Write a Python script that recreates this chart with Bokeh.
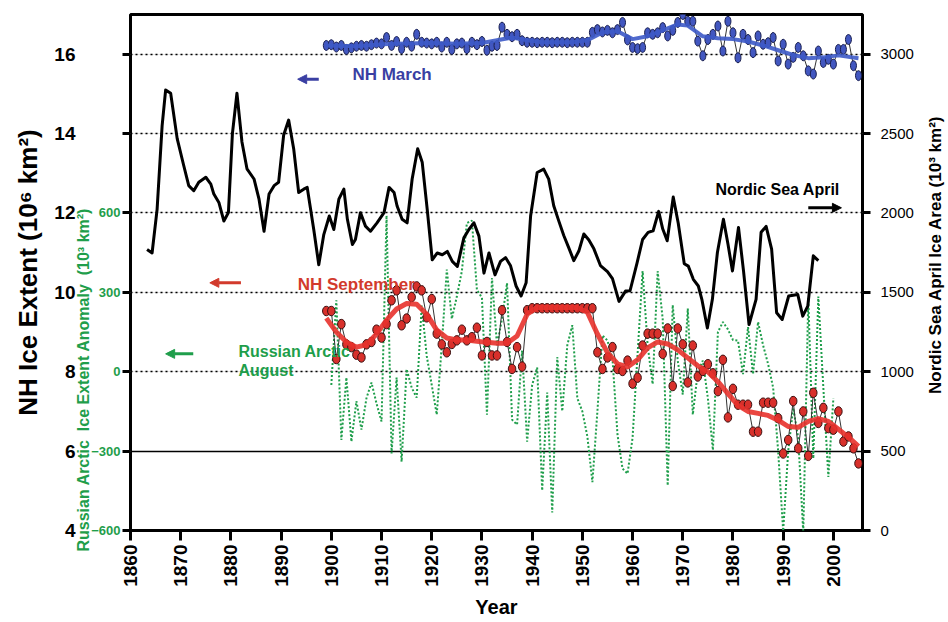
import math
from bokeh.plotting import figure
from bokeh.layouts import row
from bokeh.models import Range1d, LinearAxis, FixedTicker, Grid, Label, Arrow, NormalHead, Title
from bokeh.embed import file_html
from bokeh.resources import INLINE

FONT = "Liberation Sans"
GREEN = "#1f9e4b"
RED = "#d8302b"

# ---------------- data ----------------
x_ticks = [1860, 1870, 1880, 1890, 1900, 1910, 1920, 1930, 1940, 1950, 1960, 1970, 1980, 1990, 2000]
nh_ticks = [4, 6, 8, 10, 12, 14, 16]
green_ticks = [-600, -300, 0, 300, 600, 900, 1200]
nordic_ticks = [0, 500, 1000, 1500, 2000, 2500, 3000]

years_nh = list(range(1899, 2006))

nh_september = [
    9.53, 9.53, 8.32, 9.2, 8.69, 8.62, 8.43, 8.36, 8.69, 8.75,
    9.06, 8.86, 9.2, 9.8, 10.05, 9.17, 9.34, 9.88, 10.15, 10.05,
    9.37, 9.83, 8.96, 8.69, 8.49, 8.7, 8.79, 9.06, 8.79, 8.87,
    9.11, 8.41, 8.75, 8.41, 8.41, 9.55, 8.75, 8.07, 8.62, 8.13,
    9.55,
    9.6, 9.6, 9.6, 9.6, 9.6, 9.6, 9.6, 9.6, 9.6, 9.6, 9.6, 9.6, 9.6,
    8.49, 8.07, 8.36, 8.62, 8.07, 8.02, 8.28, 7.7, 7.85, 8.66,
    8.96, 8.96, 8.96, 8.45, 9.09, 7.64, 9.09, 8.69, 7.73, 8.66,
    7.88, 8.02, 8.19, 7.96, 7.51, 8.3, 6.85, 7.57, 7.17, 7.17,
    7.17, 6.49, 6.49, 7.22, 7.22, 7.22, 6.83, 5.94, 6.28, 7.26,
    6.07, 7.0, 5.88, 7.47, 6.71, 7.09, 6.58, 6.54, 7.0, 6.24,
    6.37, 6.07, 5.69,
]

sep_smooth_years = [1899, 1901, 1903, 1905, 1907, 1909, 1911, 1913, 1915, 1917,
                    1919, 1921, 1923, 1925, 1927, 1929, 1931, 1933, 1935, 1937,
                    1939, 1941, 1943, 1945, 1947, 1949, 1951, 1953, 1955, 1957,
                    1959, 1961, 1963, 1965, 1967, 1969, 1971, 1973, 1975, 1977,
                    1979, 1981, 1983, 1985, 1987, 1989, 1991, 1993, 1995, 1997,
                    1999, 2001, 2003, 2005]
sep_smooth = [9.35, 9.0, 8.75, 8.62, 8.68, 8.95, 9.3, 9.58, 9.72, 9.7,
              9.45, 9.05, 8.85, 8.8, 8.8, 8.77, 8.74, 8.72, 8.72, 8.9,
              9.45, 9.62, 9.62, 9.62, 9.62, 9.62, 9.5, 8.95, 8.48, 8.2,
              8.12, 8.3, 8.6, 8.75, 8.7, 8.55, 8.35, 8.15, 8.0, 7.75,
              7.45, 7.15, 7.0, 6.95, 6.9, 6.78, 6.62, 6.6, 6.75, 6.82,
              6.75, 6.55, 6.35, 6.12]

nh_march = [
    16.22, 16.24, 16.18, 16.22, 16.12, 16.16, 16.2, 16.22, 16.2, 16.24,
    16.28, 16.26, 16.42, 16.22, 16.32, 16.14, 16.3, 16.2, 16.5, 16.3,
    16.28, 16.26, 16.3, 16.18, 16.3, 16.12, 16.26, 16.28, 16.14, 16.3,
    16.24, 16.32, 16.1, 16.2, 16.22, 16.68, 16.5, 16.44, 16.5, 16.34,
    16.3,
    16.3, 16.29, 16.3, 16.3, 16.29, 16.3, 16.3, 16.29, 16.3, 16.3, 16.3, 16.3,
    16.55, 16.62, 16.56, 16.6, 16.54, 16.62, 16.8, 16.36, 16.17, 16.14,
    16.17, 16.54, 16.5, 16.54, 16.67, 16.46, 16.6, 16.8, 17.0, 16.83,
    16.83, 16.33, 15.96, 16.37, 16.5, 16.71, 16.08, 16.83, 16.54, 15.91,
    16.5, 16.37, 16.04, 16.46, 16.25, 16.29, 16.42, 15.83, 16.25, 15.75,
    15.92, 16.17, 15.96, 15.58, 15.5, 16.08, 15.79, 15.87, 15.75, 16.12,
    16.12, 16.37, 15.71, 15.46,
]

mar_smooth_years = [1899, 1905, 1910, 1915, 1920, 1925, 1930, 1933, 1936, 1939,
                    1942, 1948, 1951, 1954, 1957, 1960, 1963, 1966, 1969, 1971,
                    1974, 1977, 1980, 1983, 1986, 1989, 1992, 1995, 1998, 2001, 2005]
mar_smooth = [16.22, 16.2, 16.25, 16.27, 16.28, 16.26, 16.28, 16.35, 16.42, 16.35,
              16.3, 16.3, 16.35, 16.55, 16.58, 16.38, 16.45, 16.6, 16.75, 16.72,
              16.45, 16.4, 16.38, 16.32, 16.22, 16.1, 15.98, 15.9, 15.92, 15.97, 15.9]

nordic_years = [1863.3, 1864.3, 1865.3, 1866.3, 1867.0, 1868.0, 1869.3, 1870.6, 1871.6, 1872.6,
                1873.6, 1875.0, 1876.0, 1876.6, 1877.6, 1878.6, 1879.5, 1880.3, 1881.2, 1882.2,
                1883.2, 1884.6, 1885.6, 1886.6, 1887.6, 1888.6, 1889.5, 1890.5, 1891.5, 1892.5,
                1893.5, 1894.5, 1895.2, 1896.5, 1897.5, 1898.5, 1899.6, 1900.5, 1901.5, 1902.5,
                1903.2, 1904.2, 1904.8, 1905.8, 1906.8, 1907.8, 1909.1, 1910.5, 1911.5, 1912.5,
                1913.1, 1914.1, 1915.1, 1916.1, 1917.2, 1918.1, 1919.1, 1920.1, 1921.1, 1922.1,
                1923.1, 1924.1, 1925.1, 1926.4, 1927.4, 1928.4, 1929.4, 1930.4, 1931.4, 1932.6,
                1933.7, 1934.7, 1935.7, 1936.8, 1937.8, 1938.8, 1939.7, 1941.0, 1942.3, 1943.3,
                1944.3, 1945.3, 1946.3, 1947.3, 1948.3, 1949.3, 1950.3, 1951.3, 1952.3, 1953.6,
                1955.0, 1956.0, 1957.3, 1958.6, 1959.5, 1960.9, 1962.0, 1963.1, 1964.1, 1965.2,
                1966.0, 1966.9, 1968.1, 1969.1, 1970.3, 1971.1, 1972.1, 1973.1, 1973.8, 1974.9,
                1975.9, 1976.9, 1978.1, 1979.0, 1979.9, 1981.1, 1982.1, 1983.2, 1984.6, 1985.6,
                1986.6, 1987.7, 1988.7, 1989.8, 1991.1, 1992.9, 1993.9, 1994.9, 1996.0, 1997.0]
nordic_april = [1770, 1748, 2023, 2550, 2775, 2754, 2468, 2299, 2172, 2140,
                2193, 2225, 2182, 2119, 2066, 1949, 2002, 2500, 2754, 2447,
                2278, 2214, 2087, 1885, 2119, 2172, 2193, 2489, 2585, 2405,
                2129, 2150, 2161, 1896, 1674, 1864, 1981, 1896, 2087, 2150,
                1960, 1801, 1833, 2002, 1917, 1885, 1938, 2002, 2161, 2129,
                2044, 1960, 1938, 2214, 2405, 2320, 2023, 1705, 1748, 1737,
                1758, 1695, 1663, 1843, 1896, 1938, 1854, 1621, 1748, 1610,
                1695, 1719, 1667, 1540, 1477, 1561, 1983, 2255, 2276, 2213,
                2046, 1950, 1858, 1780, 1700, 1760, 1868, 1830, 1774, 1669,
                1630, 1586, 1443, 1508, 1510, 1686, 1833, 1878, 1888, 2010,
                1900, 1825, 2100, 1935, 1680, 1665, 1582, 1540, 1456, 1276,
                1456, 1751, 1960, 1804, 1635, 1909, 1635, 1297, 1456, 1878,
                1915, 1772, 1371, 1329, 1477, 1487, 1350, 1413, 1730, 1700]

russian_years = list(range(1900, 2001))
russian_august = [
    -50, 270, -258, -22, -264, -111, -219, -100, -41, -120,
    -188, 590, -309, -22, -340, 10, -60, -98, 250, 60,
    -50, -162, 100, 386, 200, 284, 380, 562, 571, 309,
    280, -162, 354, 100, 200, 335, -181, -200, 80, -264,
    -50, 16, -449, -79, -532, 55, -149, 100, 176, -100,
    -150, -245, -417, -149, 137, 118, 50, -238, -366, -385,
    -250, 67, 380, 100, -47, 380, 200, -430, 252, 42,
    -86, 239, -162, 0, 42, -100, -296, 150, 188, 160,
    120, 118, -9, 169, -9, 188, 100, 29, -60, -300,
    -602, -300, -137, -250, -608, 278, -328, 284, -60, -398,
    -100,
]

# ---------------- figure ----------------
H = 621
p = figure(width=918, height=H,
           x_range=Range1d(1860, 2005.8), y_range=Range1d(4, 17),
           y_axis_location=None,
           output_backend="svg", toolbar_location=None,
           min_border_left=130, min_border_right=56, min_border_top=14, min_border_bottom=91)
p.extra_y_ranges = {"green": Range1d(-600, 1350), "nordic": Range1d(0, 3250)}
p.outline_line_color = "black"
p.outline_line_width = 3
p.background_fill_color = "white"
p.border_fill_color = "white"
p.xgrid.grid_line_color = None

# grids
p.add_layout(Grid(dimension=1, ticker=FixedTicker(ticks=[8, 10, 12, 14, 16]),
                  grid_line_color="black", grid_line_dash="2 3", grid_line_width=1.5))
p.add_layout(Grid(dimension=1, ticker=FixedTicker(ticks=[6]),
                  grid_line_color="black", grid_line_width=1.5))

# x axis
xa = p.xaxis[0]
xa.ticker = FixedTicker(ticks=x_ticks)
xa.major_label_orientation = math.pi / 2
xa.major_label_text_font = FONT
xa.major_label_text_font_style = "bold"
xa.major_label_text_font_size = "19px"
xa.major_label_text_color = "black"
xa.major_label_standoff = 4
xa.major_tick_out = 10
xa.major_tick_in = 0
xa.major_tick_line_width = 3
xa.minor_tick_line_color = None
xa.axis_line_color = None
xa.axis_label = None

p.add_layout(Title(text="Year", align="center", offset=-16, standoff=8,
                   text_font=FONT, text_font_style="bold", text_font_size="20px",
                   text_color="black"), "below")

# left: green tick axis (closest to frame)
ga = LinearAxis(y_range_name="green", ticker=FixedTicker(ticks=green_ticks),
                major_label_overrides={900: "", 1200: ""})
ga.axis_line_color = None
ga.major_tick_out = 8
ga.major_tick_in = 0
ga.major_tick_line_width = 3
ga.minor_tick_line_color = None
ga.major_label_standoff = 2
ga.major_label_text_font = FONT
ga.major_label_text_font_style = "bold"
ga.major_label_text_font_size = "13px"
ga.major_label_text_color = GREEN
p.add_layout(ga, "left")

# left: green title
p.add_layout(Title(text="Russian Arctic\u00a0 Ice Extent Anomaly\u00a0 (10³ km²)",
                   align="left", offset=-21, standoff=-6,
                   text_font=FONT, text_font_style="bold", text_font_size="16px",
                   text_color=GREEN), "left")

# left: black tick labels
ba = LinearAxis(ticker=FixedTicker(ticks=nh_ticks))
ba.axis_line_color = None
ba.major_tick_line_color = None
ba.minor_tick_line_color = None
ba.major_tick_out = 0
ba.major_tick_in = 0
ba.major_label_standoff = 0
ba.major_label_text_font = FONT
ba.major_label_text_font_style = "bold"
ba.major_label_text_font_size = "19px"
ba.major_label_text_color = "black"
p.add_layout(ba, "left")

# left: black title
p.add_layout(Title(text="NH Ice Extent (10⁶ km²)", align="center", offset=16, standoff=18,
                   text_font=FONT, text_font_style="bold", text_font_size="26px",
                   text_color="black"), "left")

# right axis
ra = LinearAxis(y_range_name="nordic", ticker=FixedTicker(ticks=nordic_ticks))
ra.axis_line_color = None
ra.major_tick_out = 8
ra.major_tick_in = 0
ra.major_tick_line_width = 3
ra.minor_tick_line_color = None
ra.major_label_standoff = 10
ra.major_label_text_font = FONT
ra.major_label_text_font_style = "normal"
ra.major_label_text_font_size = "15px"
ra.major_label_text_color = "black"
p.add_layout(ra, "right")

# ---------------- series ----------------
p.line(russian_years, russian_august, y_range_name="green", line_color=GREEN,
       line_width=2, line_dash="2 2")
p.line(nordic_years, nordic_april, y_range_name="nordic", line_color="black",
       line_width=3, line_join="round")

p.line(years_nh, nh_september, line_color="#333333", line_width=1)
p.ellipse(years_nh, nh_september, width=7.5, height=9.5, width_units="screen", height_units="screen",
          fill_color=RED, line_color="#3a1010", line_width=1)
p.line(sep_smooth_years, sep_smooth, line_color="#e8322c", line_width=5, line_alpha=0.9,
       line_join="round")

p.line(years_nh, nh_march, line_color="#333333", line_width=1)
p.ellipse(years_nh, nh_march, width=6, height=10, width_units="screen", height_units="screen",
          fill_color="#4257c0", line_color="#1a2050", line_width=1)
p.line(mar_smooth_years, mar_smooth, line_color="#3d5ac8", line_width=4, line_alpha=0.9,
       line_join="round")

# ---------------- annotations ----------------
def add_label(fig, x, y, text, color, size, align="left", angle=0.0):
    fig.add_layout(Label(x=x, y=y, text=text, text_font=FONT, text_font_style="bold",
                         text_font_size=size, text_color=color, text_baseline="middle",
                         text_align=align, angle=angle))

def add_arrow(x0, x1, y, color):
    p.add_layout(Arrow(end=NormalHead(size=9, fill_color=color, line_color=color),
                       x_start=x0, y_start=y, x_end=x1, y_end=y,
                       line_color=color, line_width=3))

add_label(p, 1904.2, 15.5, "NH March", "#3a3fa3", "17px")
add_arrow(1897.5, 1893.3, 15.37, "#3a3fa3")

add_label(p, 1976.5, 12.6, "Nordic Sea April", "black", "16px")
add_arrow(1995.0, 2001.6, 12.13, "black")

add_label(p, 1893.3, 10.19, "NH September", "#d23a2c", "17px")
add_arrow(1882.0, 1875.8, 10.24, "#d23a2c")

add_label(p, 1881.5, 8.5, "Russian Arctic", GREEN, "16px")
add_label(p, 1881.5, 8.03, "August", GREEN, "16px")
add_arrow(1872.5, 1867.0, 8.45, GREEN)

# right-hand title strip (pixel coordinates of its own little canvas)
p2 = figure(width=29, height=H, x_range=Range1d(0, 29), y_range=Range1d(H, 0),
            x_axis_location=None, y_axis_location=None,
            output_backend="svg", toolbar_location=None, min_border=0)
p2.outline_line_color = None
p2.grid.visible = False
p2.background_fill_color = "white"
p2.border_fill_color = "white"
add_label(p2, 17, 289, "Nordic Sea April Ice Area (10³ km²)", "black", "17px",
          align="center", angle=math.pi / 2)

layout = row(p, p2)
open("out.html", "w").write(file_html(layout, INLINE))
